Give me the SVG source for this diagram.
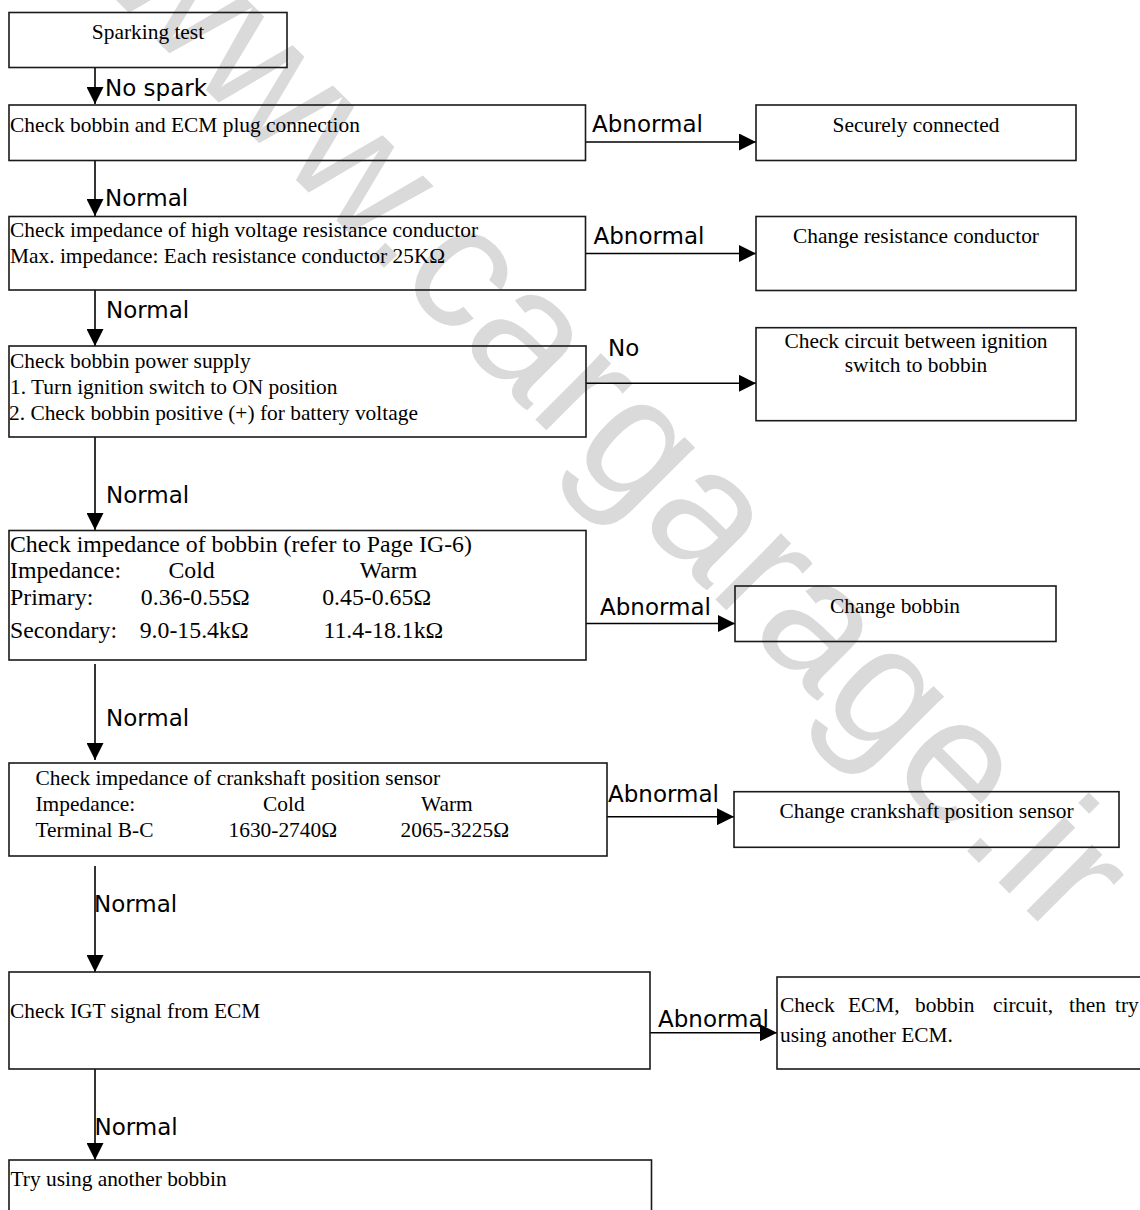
<svg xmlns="http://www.w3.org/2000/svg" width="1140" height="1210" viewBox="0 0 1140 1210">
<defs>
<style>
.box{fill:none;stroke:#1a1a1a;stroke-width:1.6}
.t{font-family:"Liberation Serif","Times New Roman",serif;font-size:21.4px;fill:#000}
.tb{font-family:"Liberation Serif","Times New Roman",serif;font-size:23.8px;fill:#000}
.c{text-anchor:middle}
.lbl{font-family:"DejaVu Sans",Verdana,sans-serif;font-size:23px;fill:#000}
.ln{fill:none;stroke:#000;stroke-width:1.6}
.wm{font-family:"Liberation Sans",Arial,sans-serif;font-size:176px;fill:#dadada}
</style>
<marker id="ah" markerUnits="userSpaceOnUse" markerWidth="17" markerHeight="17" refX="17" refY="8.5" orient="auto">
<path d="M0,0 L17,8.5 L0,17 z" fill="#000"/>
</marker>
</defs>
<rect width="1140" height="1210" fill="#fff"/>
<text class="wm" transform="translate(98,-18) rotate(45)">www.cargarage.ir</text>

<g id="connectors">
<line class="ln" x1="95" y1="67.5" x2="95" y2="104" marker-end="url(#ah)"/>
<text class="lbl" x="105" y="96">No spark</text>
<line class="ln" x1="585.5" y1="142" x2="756" y2="142" marker-end="url(#ah)"/>
<text class="lbl" x="592" y="132">Abnormal</text>
<line class="ln" x1="95" y1="160.5" x2="95" y2="216" marker-end="url(#ah)"/>
<text class="lbl" x="105" y="206">Normal</text>
<line class="ln" x1="585.5" y1="253.5" x2="756" y2="253.5" marker-end="url(#ah)"/>
<text class="lbl" x="593.5" y="244">Abnormal</text>
<line class="ln" x1="95" y1="290" x2="95" y2="346" marker-end="url(#ah)"/>
<text class="lbl" x="106" y="318">Normal</text>
<line class="ln" x1="586" y1="383.3" x2="756" y2="383.3" marker-end="url(#ah)"/>
<text class="lbl" x="608" y="356">No</text>
<line class="ln" x1="95" y1="437" x2="95" y2="530" marker-end="url(#ah)"/>
<text class="lbl" x="106" y="502.5">Normal</text>
<line class="ln" x1="586" y1="623.5" x2="735" y2="623.5" marker-end="url(#ah)"/>
<text class="lbl" x="600" y="615">Abnormal</text>
<line class="ln" x1="95" y1="664" x2="95" y2="760" marker-end="url(#ah)"/>
<text class="lbl" x="106" y="726">Normal</text>
<line class="ln" x1="607" y1="816.7" x2="734" y2="816.7" marker-end="url(#ah)"/>
<text class="lbl" x="608" y="801.7">Abnormal</text>
<line class="ln" x1="95" y1="866" x2="95" y2="972" marker-end="url(#ah)"/>
<text class="lbl" x="94" y="912">Normal</text>
<line class="ln" x1="650" y1="1032.7" x2="777" y2="1032.7" marker-end="url(#ah)"/>
<text class="lbl" x="658" y="1027">Abnormal</text>
<line class="ln" x1="95" y1="1069" x2="95" y2="1160" marker-end="url(#ah)"/>
<text class="lbl" x="94.5" y="1135">Normal</text>
</g>

<g id="n-sparking-test">
<rect class="box" x="9" y="12.5" width="278" height="55"/>
<text class="t c" x="148" y="39">Sparking test</text>
</g>
<g id="n-check-plug">
<rect class="box" x="9" y="105" width="576.5" height="55.5"/>
<text class="t" x="10" y="131.5">Check bobbin and ECM plug connection</text>
</g>
<g id="n-securely-connected">
<rect class="box" x="756" y="105" width="320" height="55.5"/>
<text class="t c" x="916" y="131.5">Securely connected</text>
</g>
<g id="n-check-conductor">
<rect class="box" x="9" y="216.5" width="576.5" height="73.5"/>
<text class="t" x="10" y="237">Check impedance of high voltage resistance conductor</text>
<text class="t" x="10" y="263">Max. impedance: Each resistance conductor 25KΩ</text>
</g>
<g id="n-change-conductor">
<rect class="box" x="756" y="216.5" width="320" height="74"/>
<text class="t c" x="916" y="242.5">Change resistance conductor</text>
</g>
<g id="n-power-supply">
<rect class="box" x="9" y="346" width="577" height="91"/>
<text class="t" x="10" y="368">Check bobbin power supply</text>
<text class="t" x="10" y="394">1. Turn ignition switch to ON position</text>
<text class="t" x="9" y="420">2. Check bobbin positive (+) for battery voltage</text>
</g>
<g id="n-check-circuit">
<rect class="box" x="756" y="327.7" width="320" height="93"/>
<text class="t c" x="916" y="348">Check circuit between ignition</text>
<text class="t c" x="916" y="372">switch to bobbin</text>
</g>
<g id="n-bobbin-impedance">
<rect class="box" x="9" y="530.5" width="577" height="129.5"/>
<text class="tb" x="10" y="551.5">Check impedance of bobbin (refer to Page IG-6)</text>
<text class="tb" x="10" y="578">Impedance:</text>
<text class="tb" x="168.4" y="578">Cold</text>
<text class="tb" x="359.7" y="578">Warm</text>
<text class="tb" x="10" y="605">Primary:</text>
<text class="tb" x="140.8" y="605">0.36-0.55Ω</text>
<text class="tb" x="322.2" y="605">0.45-0.65Ω</text>
<text class="tb" x="10" y="638">Secondary:</text>
<text class="tb" x="139.7" y="638">9.0-15.4kΩ</text>
<text class="tb" x="323.4" y="638">11.4-18.1kΩ</text>
</g>
<g id="n-change-bobbin">
<rect class="box" x="735" y="586" width="321" height="55.5"/>
<text class="t c" x="895" y="612.5">Change bobbin</text>
</g>
<g id="n-crank-impedance">
<rect class="box" x="9" y="763" width="598" height="93"/>
<text class="t" x="35.5" y="784.5">Check impedance of crankshaft position sensor</text>
<text class="t" x="35.5" y="810.5">Impedance:</text>
<text class="t" x="263" y="810.5">Cold</text>
<text class="t" x="421" y="810.5">Warm</text>
<text class="t" x="35.5" y="836.5">Terminal B-C</text>
<text class="t" x="228.5" y="836.5">1630-2740Ω</text>
<text class="t" x="400.5" y="836.5">2065-3225Ω</text>
</g>
<g id="n-change-crank">
<rect class="box" x="734" y="791.7" width="385" height="55.6"/>
<text class="t c" x="926.5" y="818.3">Change crankshaft position sensor</text>
</g>
<g id="n-igt-signal">
<rect class="box" x="9" y="972" width="641" height="97"/>
<text class="t" x="10" y="1018">Check IGT signal from ECM</text>
</g>
<g id="n-check-ecm">
<rect class="box" x="777" y="977" width="370" height="92"/>
<text class="t" y="1012"><tspan x="780">Check</tspan><tspan x="848">ECM,</tspan><tspan x="915">bobbin</tspan><tspan x="993">circuit,</tspan><tspan x="1069">then</tspan><tspan x="1115">try</tspan></text>
<text class="t" x="780" y="1042">using another ECM.</text>
</g>
<g id="n-another-bobbin">
<rect class="box" x="9" y="1160" width="642.5" height="60"/>
<text class="t" x="10.5" y="1186">Try using another bobbin</text>
</g>
</svg>
